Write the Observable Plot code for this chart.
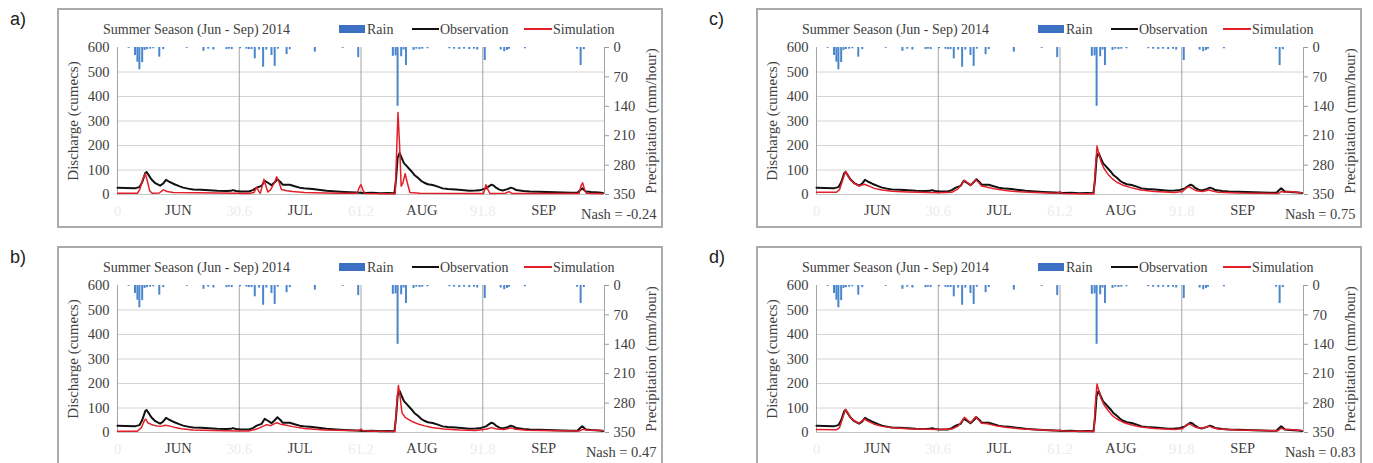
<!DOCTYPE html>
<html><head><meta charset="utf-8">
<script src="https://cdn.jsdelivr.net/npm/d3@7"></script>
<script src="https://cdn.jsdelivr.net/npm/@observablehq/plot@0.6"></script>
<style>
body{margin:0;background:#fff;}
#root{position:relative;width:1373px;height:463px;overflow:hidden;background:#fff;}
.frame{position:absolute;border:2px solid #ababab;box-sizing:border-box;}
.lab{position:absolute;font-family:"Liberation Sans",Arial,sans-serif;font-size:18px;color:#222;}
.ttl{position:absolute;font-family:"Liberation Serif","Times New Roman",serif;font-size:14px;line-height:16px;color:#404040;white-space:nowrap;}
.sw{position:absolute;}
</style></head>
<body><div id="root"></div>
<script>
// ---- data ----
const panelLabels = ["a)", "b)", "c)", "d)"];
const nashValues = ["-0.24", "0.47", "0.75", "0.83"];
const months = ["JUN", "JUL", "AUG", "SEP"];
const monthCenters = [15.3, 45.9, 76.5, 107.1];
const dayTicks = [0, 30.6, 61.2, 91.8];
const dayGrid = [0, 30.6, 61.2, 91.8, 122.4];
const dischargeTicks = [0, 100, 200, 300, 400, 500, 600];
const rainTicks = [0, 70, 140, 210, 280, 350];

// rainfall [day, mm/hour]
const rain = [[2.8,2],[4.4,19],[5.0,35],[5.5,53],[6.2,36],[6.8,7],[7.4,5],[8.2,4],[9.0,3],[10.5,23],[11.5,5],[17.4,2],[21.6,9],[22.8,4],[24.1,6],[27.4,5],[28,4],[28.7,5],[30.8,3],[32.4,4],[33,5],[33.7,5],[34.5,27],[35.6,6],[36.6,47],[37.4,6],[38.7,19],[39.5,45],[40.3,4],[42.5,17],[43.3,5],[49.6,11],[56.6,2],[60.5,24],[69.2,21],[69.9,20],[70.4,140],[71.3,22],[71.9,6],[72.5,43],[74.4,7],[75.1,4],[75.9,5],[76.6,4],[77.9,3],[83.4,3],[84.6,4],[85.9,5],[87.1,4],[88.4,5],[89.6,4],[90.4,6],[92.3,31],[96.3,6],[97.2,10],[97.9,7],[98.4,4],[102.4,3],[115.5,4],[116.4,43],[117.2,5]];

// observed discharge [day, cumecs]
const observation = [[0,28],[2,27],[4.5,26],[5.5,30],[6.2,50],[7.0,88],[7.3,92],[7.8,80],[8.5,62],[9.5,46],[10.7,36],[11.5,45],[12.2,60],[13,52],[14,44],[15.5,34],[16.5,28],[18,23],[19,20],[21,19],[23,17],[25,15],[27.4,14],[28.5,15],[29,18],[29.8,14],[31,12],[33,12],[34,18],[35,28],[36.2,35],[37,56],[37.8,48],[38.7,38],[39.5,50],[40.2,62],[41,50],[41.5,40],[43.3,40],[44.5,34],[45.8,28],[47.5,24],[49,22],[51,18],[52.5,15],[55,12],[57,10],[60,8],[62,6],[64,7],[66,5],[68,6],[69.6,5],[70,60],[70.4,150],[70.9,170],[71.4,150],[72,128],[72.7,116],[73.8,96],[74.6,80],[75.5,68],[76.3,56],[77.1,48],[78,42],[79.2,39],[80.5,32],[81.7,25],[83,22],[85,20],[86.5,18],[88.4,15],[90,16],[91,17],[92.6,25],[93.5,35],[94,40],[94.6,36],[95.1,28],[96,20],[96.8,16],[98,22],[98.9,28],[99.6,24],[100.2,18],[102,14],[103.6,12],[106,11],[108,10],[110,9],[112,8],[114,7],[115.6,7],[116.3,18],[116.8,25],[117.3,18],[117.7,12],[119,10],[121,8],[122,6]];

// simulated discharge per panel
const simA = [[0,5],[5,5],[5.6,20],[6.3,60],[7.0,85],[7.5,55],[8.1,15],[8.7,5],[10.5,6],[11.5,19],[12.5,12],[14,8],[20,7],[30,5],[33,4],[34.3,8],[35,30],[35.5,12],[35.9,5],[36.3,30],[36.8,62],[37.3,35],[37.8,10],[38.5,20],[39.5,50],[40,72],[40.6,50],[41.2,20],[42.5,15],[44,12],[47,8],[55,5],[60.2,5],[60.8,30],[61.2,40],[61.7,18],[62.2,4],[69.8,3],[70.1,150],[70.5,335],[70.9,200],[71.3,34],[71.7,45],[72.3,85],[72.8,50],[73.5,8],[76,5],[92,4],[92.6,40],[93.1,20],[93.6,4],[97.5,5],[98.4,12],[99.2,4],[116,4],[116.5,35],[116.9,48],[117.4,20],[117.8,5],[122,3]];
const simB = [[0,5],[5,5],[6,20],[6.8,50],[7.1,55],[7.6,40],[8.5,33],[9.5,28],[10.8,25],[12,30],[13,27],[14.5,20],[16,15],[19,10],[24,8],[30,6],[33,6],[35,14],[36.5,25],[37.5,32],[38.5,28],[40,40],[41,34],[42.5,30],[44,24],[47,16],[52,10],[58,8],[60.5,8],[61.2,14],[61.8,7],[65,5],[69.7,4],[70.2,120],[70.6,192],[71,150],[71.5,80],[72.3,62],[73,55],[74,45],[75.5,35],[77,28],[79,20],[82,14],[86,10],[90,8],[92.8,14],[94,20],[95,15],[97,12],[99,19],[100,13],[103,9],[110,7],[116,6],[117,13],[118,10],[122,8]];
const simC = [[0,9],[5,9],[5.8,20],[6.6,60],[7.3,95],[7.8,80],[8.5,60],[9.5,45],[10.7,35],[12,42],[13,36],[14.5,25],[16.5,18],[19,13],[23,10],[28,8],[31,7],[34,9],[35.5,22],[36.5,42],[37.2,58],[38,48],[38.7,38],[40,60],[40.7,50],[41.5,35],[43,30],[45,22],[48,15],[52,10],[58,6],[60.5,5],[61.2,12],[61.8,4],[65,3],[69.7,3],[70.1,110],[70.5,198],[70.9,170],[71.5,135],[72.3,105],[73.3,82],[74.3,65],[75.5,50],[77,38],[79,28],[81.5,18],[85,12],[90,8],[92,12],[92.8,25],[93.6,32],[94.5,24],[95.5,15],[97,12],[98.7,18],[99.5,14],[101,9],[106,6],[112,5],[116,4],[116.8,12],[117.6,9],[119,12],[122,6]];
const simD = [[0,12],[5,11],[5.8,20],[6.6,60],[7.3,95],[7.8,82],[8.5,62],[9.5,48],[10.7,38],[12,55],[13,46],[14.5,34],[16.5,25],[19,19],[23,15],[28,13],[31,12],[34,14],[35.5,25],[36.5,45],[37.2,62],[38,50],[38.7,40],[40,64],[40.7,52],[41.5,38],[43,36],[45,28],[48,20],[52,14],[58,9],[60.5,7],[61.2,9],[62,6],[66,5],[69.7,4],[70.1,120],[70.5,198],[70.9,175],[71.5,140],[72.3,112],[73.3,90],[74.3,70],[75.5,55],[77,42],[79,32],[81.5,22],[85,16],[90,12],[92,15],[92.8,28],[93.6,36],[94.5,28],[95.5,20],[97,17],[98.7,26],[99.5,20],[101,14],[106,10],[112,8],[116,7],[116.8,18],[117.6,12],[119,12],[122,8]];
const simulations = [simA, simB, simC, simD];

// ---- layout ----
const root = document.getElementById("root");
const W = 606, H = 220;
const margins = {marginTop: 39, marginRight: 59, marginBottom: 34, marginLeft: 60};
const svgStyle = {fontFamily: '"Liberation Serif","Times New Roman",serif', fontSize: "14.5px", color: "#404040", background: "transparent", overflow: "visible"};
const offsets = [[0,0],[0,238],[699,0],[699,238]];

function el(cls, x, y, html, css) {
  const d = document.createElement("div");
  d.className = cls;
  d.style.left = x + "px"; d.style.top = y + "px";
  if (html != null) d.innerHTML = html;
  if (css) Object.assign(d.style, css);
  root.appendChild(d);
  return d;
}

function panel(i) {
  const [ox, oy] = offsets[i];
  el("lab", 10 + ox, 9 + oy, panelLabels[i]);
  el("frame", 57 + ox, 8 + oy, null, {width: W + "px", height: H + "px"});

  const back = Plot.plot({
    width: W, height: H, ...margins, style: svgStyle,
    x: {domain: [0, 122.4], axis: null},
    y: {domain: [0, 350], reverse: true},
    marks: [
      Plot.ruleY(dischargeTicks.slice(1).map(v => v * 350 / 600), {stroke: "#d4d4d4", strokeWidth: 1}),
      Plot.ruleX(dayGrid, {stroke: "#a4a4a4", strokeWidth: 1}),
      Plot.ruleY([350], {stroke: "#c4c4c4", strokeWidth: 1}),
      Plot.ruleX(rain, {x: d => d[0], y1: 0, y2: d => d[1], stroke: "#4a86cc", strokeWidth: 2}),
      Plot.axisY({anchor: "right", ticks: rainTicks, tickSize: 4, tickPadding: 5, label: null, stroke: "#999"}),
      Plot.text(["Precipitation (mm/hour)"], {frameAnchor: "right", dx: 47, rotate: -90, textAnchor: "middle", lineAnchor: "middle", fontSize: 15, fill: "#404040"})
    ]
  });
  const front = Plot.plot({
    width: W, height: H, ...margins, style: svgStyle,
    x: {domain: [0, 122.4]},
    y: {domain: [0, 600]},
    marks: [
      Plot.line(observation, {x: d => d[0], y: d => d[1], stroke: "#111", strokeWidth: 2}),
      Plot.line(simulations[i], {x: d => d[0], y: d => d[1], stroke: "#e3202a", strokeWidth: 1.5}),
      Plot.axisY({ticks: dischargeTicks, tickSize: 0, tickPadding: 8, label: null}),
      Plot.axisX({ticks: dayTicks, tickSize: 0, tickPadding: 11, tickFormat: d => String(d), fill: "#ececec", label: null}),
      Plot.axisX({ticks: monthCenters, tickSize: 0, tickPadding: 10, tickFormat: d => months[monthCenters.indexOf(d)], label: null}),
      Plot.text(["Discharge (cumecs)"], {frameAnchor: "left", dx: -44, rotate: -90, textAnchor: "middle", lineAnchor: "middle", fontSize: 15, fill: "#404040"}),
      Plot.text(["Nash = " + nashValues[i]], {frameAnchor: "bottom-right", dx: 52, dy: 20, textAnchor: "end", lineAnchor: "middle", fontSize: 14.5, fill: "#404040"})
    ]
  });
  for (const s of [back, front]) {
    s.style.position = "absolute";
    s.style.left = (57 + ox) + "px";
    s.style.top = (8 + oy) + "px";
    root.appendChild(s);
  }
  el("ttl", 103 + ox, 22 + oy, "Summer Season (Jun - Sep) 2014");
  el("sw", 339 + ox, 25 + oy, null, {width: "26px", height: "8px", background: "#3b70c2"});
  el("ttl", 367 + ox, 22 + oy, "Rain");
  el("sw", 412 + ox, 28 + oy, null, {width: "27px", height: "2px", background: "#111"});
  el("ttl", 440 + ox, 22 + oy, "Observation");
  el("sw", 524 + ox, 28 + oy, null, {width: "28px", height: "2px", background: "#e3202a"});
  el("ttl", 553 + ox, 22 + oy, "Simulation");
}
for (let i = 0; i < 4; i++) panel(i);
</script></body></html>
